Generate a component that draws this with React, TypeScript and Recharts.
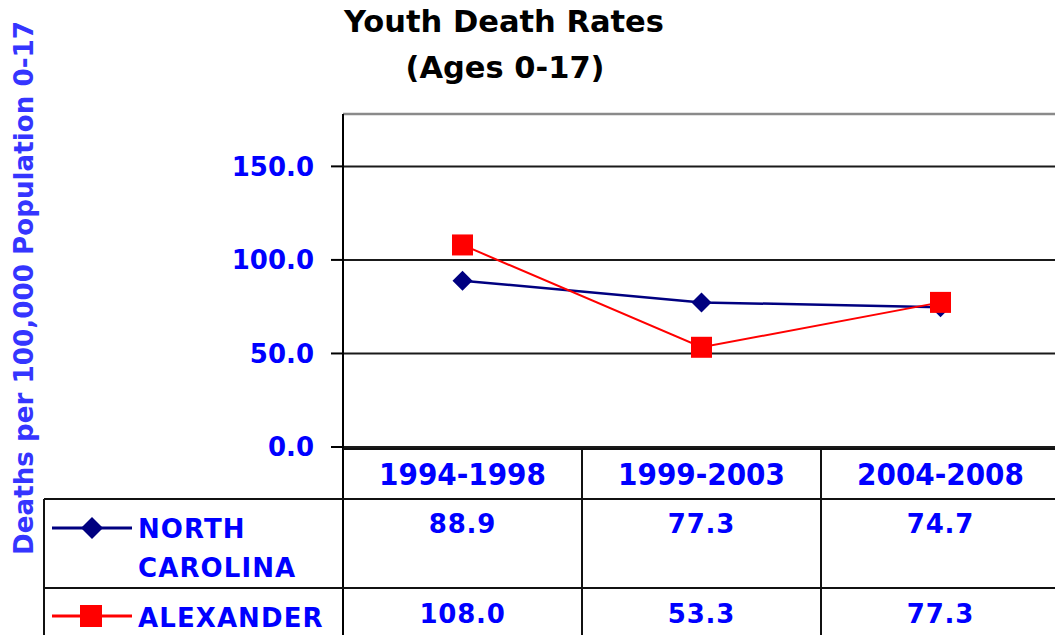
import React from "react";
import {
  LineChart,
  Line,
  XAxis,
  YAxis,
  CartesianGrid,
  ReferenceLine,
} from "recharts";

// ---- data ----
const categories = ["1994-1998", "1999-2003", "2004-2008"];
const ncValues = [88.9, 77.3, 74.7];
const alexValues = [108.0, 53.3, 77.3];
const yTicks = [0, 50, 100, 150];
const yMax = 178;
const ncLabelLines = ["NORTH", "CAROLINA"];
const alexLabelLines = ["ALEXANDER"];
const titleLines = ["Youth Death Rates", "(Ages 0-17)"];
const yLabel = "Deaths per 100,000 Population 0-17";

const data = categories.map((c, i) => ({
  category: c,
  nc: ncValues[i],
  alex: alexValues[i],
}));

// ---- layout / style ----
const CHART_W = 1062;
const CHART_H = 635;
const PLOT_LEFT = 343;
const PLOT_TOP = 114;
const PLOT_BOTTOM = 447;
const PLOT_RIGHT = 1060;
const COL_W = (PLOT_RIGHT - PLOT_LEFT) / categories.length;
const FONT = "'DejaVu Sans', Verdana, sans-serif";
const FONT_COND = "'DejaVu Sans Condensed', 'DejaVu Sans', sans-serif";
const BLUE = "#0000ff";
const NAVY = "#000080";
const RED = "#ff0000";

const Diamond = (props: any) => {
  const { cx, cy, size = 10, fill = NAVY } = props;
  if (cx == null || cy == null) return null;
  return (
    <polygon
      points={`${cx},${cy - size} ${cx + size},${cy} ${cx},${cy + size} ${cx - size},${cy}`}
      fill={fill}
    />
  );
};

const Square = (props: any) => {
  const { cx, cy, size = 10, fill = RED } = props;
  if (cx == null || cy == null) return null;
  return <rect x={cx - size} y={cy - size} width={size * 2} height={size * 2} fill={fill} />;
};

const YTick = (props: any) => {
  const { x, y, payload } = props;
  return (
    <text
      x={x}
      y={y}
      dy="0.36em"
      textAnchor="end"
      fontFamily={FONT}
      fontWeight="bold"
      fontSize={26}
      fill={BLUE}
    >
      {Number(payload.value).toFixed(1)}
    </text>
  );
};

export default function App() {
  const lineStroke = "#111";
  const tableLeft = 44;
  const headerTop = 449;
  const row1Top = 499;
  const row2Top = 588;
  return (
    <div
      style={{
        position: "absolute",
        left: 0,
        top: 0,
        width: 1055,
        height: 635,
        overflow: "hidden",
        background: "#fff",
      }}
    >
      <LineChart
        width={CHART_W}
        height={CHART_H}
        data={data}
        margin={{ top: PLOT_TOP, right: CHART_W - PLOT_RIGHT, bottom: CHART_H - PLOT_BOTTOM, left: 0 }}
      >
        <CartesianGrid vertical={false} stroke="#1a1a1a" strokeWidth={2} />
        <ReferenceLine y={yMax} stroke="#8a8a8a" strokeWidth={2.5} ifOverflow="extendDomain" />
        <XAxis
          dataKey="category"
          hide
          padding={{ left: COL_W / 2, right: COL_W / 2 }}
        />
        <YAxis
          width={PLOT_LEFT}
          domain={[0, yMax]}
          ticks={yTicks}
          interval={0}
          tickSize={12}
          tickMargin={17}
          axisLine={{ stroke: "#000", strokeWidth: 2 }}
          tickLine={{ stroke: "#000", strokeWidth: 2 }}
          tick={<YTick />}
        />
        <Line
          dataKey="nc"
          stroke={NAVY}
          strokeWidth={2.5}
          isAnimationActive={false}
          dot={(p: any) => <Diamond key={`nc-${p.index}`} cx={p.cx} cy={p.cy} size={10} />}
          activeDot={false}
        />
        <Line
          dataKey="alex"
          stroke={RED}
          strokeWidth={2}
          isAnimationActive={false}
          dot={(p: any) => <Square key={`al-${p.index}`} cx={p.cx} cy={p.cy} size={10.5} />}
          activeDot={false}
        />
      </LineChart>

      <svg
        width={CHART_W}
        height={CHART_H}
        style={{ position: "absolute", left: 0, top: 0, pointerEvents: "none" }}
      >
        {/* title */}
        <text x={504} y={32} textAnchor="middle" fontFamily={FONT} fontWeight="bold" fontSize={30.5} fill="#000">
          {titleLines[0]}
        </text>
        <text x={505} y={78} textAnchor="middle" fontFamily={FONT} fontWeight="bold" fontSize={30.5} fill="#000">
          {titleLines[1]}
        </text>

        {/* y label */}
        <text
          transform="translate(33, 288) rotate(-90)"
          textAnchor="middle"
          fontFamily={FONT}
          fontWeight="bold"
          fontSize={26.2}
          fill="#3535ff"
        >
          {yLabel}
        </text>

        {/* data table grid */}
        <line x1={PLOT_LEFT} y1={PLOT_BOTTOM} x2={PLOT_LEFT} y2={CHART_H} stroke="#000" strokeWidth={2} />
        <line x1={PLOT_LEFT} y1={headerTop} x2={CHART_W} y2={headerTop} stroke={lineStroke} strokeWidth={2} />
        <line x1={tableLeft} y1={row1Top} x2={CHART_W} y2={row1Top} stroke={lineStroke} strokeWidth={2} />
        <line x1={tableLeft} y1={row2Top} x2={CHART_W} y2={row2Top} stroke={lineStroke} strokeWidth={2} />
        <line x1={tableLeft} y1={row1Top} x2={tableLeft} y2={CHART_H} stroke={lineStroke} strokeWidth={2} />
        {categories.map((c, i) => (
          <line
            key={`v-${c}`}
            x1={PLOT_LEFT + COL_W * (i + 1)}
            y1={headerTop}
            x2={PLOT_LEFT + COL_W * (i + 1)}
            y2={CHART_H}
            stroke={lineStroke}
            strokeWidth={2}
          />
        ))}

        {/* header */}
        {categories.map((c, i) => (
          <text
            key={`h-${c}`}
            x={PLOT_LEFT + COL_W * (i + 0.5)}
            y={485}
            textAnchor="middle"
            fontFamily={FONT_COND}
            style={{ fontStretch: "condensed" }}
            fontWeight="bold"
            fontSize={31}
            fill={BLUE}
          >
            {c}
          </text>
        ))}

        {/* values */}
        {ncValues.map((v, i) => (
          <text
            key={`nv-${i}`}
            x={PLOT_LEFT + COL_W * (i + 0.5)}
            y={533}
            textAnchor="middle"
            fontFamily={FONT}
            fontWeight="bold"
            fontSize={26}
            letterSpacing={0.8}
            fill={BLUE}
          >
            {v.toFixed(1)}
          </text>
        ))}
        {alexValues.map((v, i) => (
          <text
            key={`av-${i}`}
            x={PLOT_LEFT + COL_W * (i + 0.5)}
            y={623}
            textAnchor="middle"
            fontFamily={FONT}
            fontWeight="bold"
            fontSize={26}
            letterSpacing={0.8}
            fill={BLUE}
          >
            {v.toFixed(1)}
          </text>
        ))}

        {/* legend keys */}
        <line x1={52} y1={528} x2={132} y2={528} stroke={NAVY} strokeWidth={3} />
        <Diamond cx={92} cy={528} size={11} fill={NAVY} />
        <line x1={52} y1={616} x2={132} y2={616} stroke={RED} strokeWidth={3} />
        <Square cx={91} cy={616} size={11} fill={RED} />

        {ncLabelLines.map((t, i) => (
          <text
            key={`nl-${i}`}
            x={138}
            y={538 + i * 39}
            fontFamily={FONT}
            fontWeight="bold"
            fontSize={26}
            letterSpacing={1.1}
            fill={BLUE}
          >
            {t}
          </text>
        ))}
        {alexLabelLines.map((t, i) => (
          <text
            key={`al-${i}`}
            x={138}
            y={627 + i * 39}
            fontFamily={FONT}
            fontWeight="bold"
            fontSize={26}
            letterSpacing={1.1}
            fill={BLUE}
          >
            {t}
          </text>
        ))}
      </svg>
    </div>
  );
}
